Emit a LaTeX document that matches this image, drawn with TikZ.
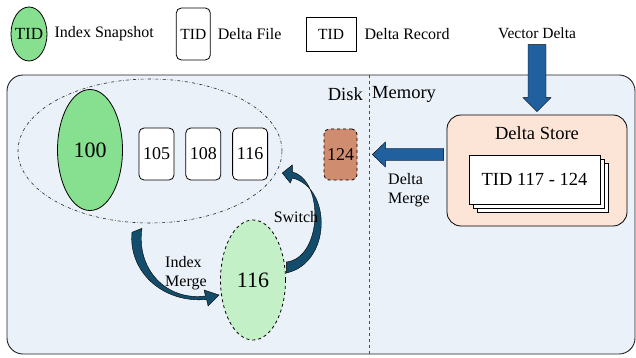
\documentclass[tikz,border=0pt]{standalone}
\usepackage{fontspec}
\setmainfont{Liberation Serif}
\usepackage{xcolor}
\usepackage{tikz}
\usetikzlibrary{shapes.geometric, arrows.meta, positioning, calc, shadows}
\definecolor{panelblue}{HTML}{EAF1F9}
\definecolor{snapgreen}{HTML}{86E08F}
\definecolor{newgreen}{HTML}{C4F0C8}
\definecolor{storepeach}{HTML}{FCE4D6}
\definecolor{brownrec}{HTML}{CF8C6E}
\definecolor{blockblue}{HTML}{21609E}
\definecolor{swooshblue}{HTML}{144C6B}
\definecolor{edgegray}{HTML}{222222}
\tikzstyle{panelbox} = [rectangle, rounded corners=16pt, draw=edgegray, line width=0.9pt, fill=panelblue, minimum width=628pt, minimum height=279pt]
\tikzstyle{divider} = [dashed, draw=edgegray!80, line width=0.7pt]
\tikzstyle{snapgroup} = [ellipse, dash dot, draw=edgegray, line width=0.6pt, minimum width=264pt, minimum height=144pt]
\tikzstyle{snapshot} = [ellipse, draw=black, fill=snapgreen, line width=0.8pt, inner sep=0pt, minimum width=65pt, minimum height=121pt, font=\fontsize{22}{24}\selectfont]
\tikzstyle{filebox} = [rectangle, rounded corners=5pt, draw=black, fill=white, line width=0.8pt, minimum width=35pt, minimum height=52pt, inner sep=1pt, font=\fontsize{18}{20}\selectfont]
\tikzstyle{recordbox} = [rectangle, draw=black, fill=white, line width=0.8pt, minimum width=50pt, minimum height=34pt, inner sep=1pt, font=\fontsize{15.5}{18}\selectfont]
\tikzstyle{storebox} = [rectangle, rounded corners=14pt, draw=black, fill=storepeach, line width=0.8pt, minimum width=180pt, minimum height=111pt]
\tikzstyle{paperbox} = [rectangle, draw=black, fill=white, line width=0.8pt, minimum width=131pt, minimum height=49pt, double copy shadow={shadow xshift=4pt, shadow yshift=-4pt}, font=\fontsize{18.5}{20}\selectfont]
\tikzstyle{legtext} = [inner sep=2pt, font=\fontsize{16}{19}\selectfont]
\tikzstyle{lbltext} = [inner sep=2pt, font=\fontsize{16}{19}\selectfont]
\tikzstyle{sidetext} = [inner sep=2pt, font=\fontsize{18.5}{20}\selectfont]
\tikzstyle{bluearrow} = [draw=black, line width=0.4pt, fill=blockblue]
\tikzstyle{swoosh} = [draw=black, line width=0.4pt, fill=swooshblue]

\begin{document}
\begin{tikzpicture}[x=1pt, y=-1pt, node distance=6pt]
    \useasboundingbox (0,0) rectangle (636,358);

    % legend
    \node[snapshot, minimum width=36pt, minimum height=54pt, inner xsep=-3pt, font=\fontsize{17}{20}\selectfont] (legsnap) at (29,34) {TID};
    \node[legtext, right=5pt of legsnap] (legsnaptext) {Index Snapshot};
    \node[filebox, minimum width=34pt, font=\fontsize{15.5}{18}\selectfont, right=20pt of legsnaptext] (legfile) {TID};
    \node[legtext, right=5pt of legfile] (legfiletext) {Delta File};
    \node[recordbox, right=22pt of legfiletext] (legrec) {TID};
    \node[legtext, right=6pt of legrec] (legrectext) {Delta Record};
    \node[lbltext, font=\fontsize{15.5}{18}\selectfont] (vd) at (537,33) {Vector Delta};

    % disk / memory panel
    \node[panelbox] (panel) at (321,214.5) {};
    \draw[divider] ($(panel.north)+(48,0)$) -- ($(panel.south)+(48,0)$);
    \node[sidetext, anchor=east] (disk) at (365,94) {Disk};
    \node[sidetext, right=5pt of disk] (memory) {Memory};

    \node[snapgroup] (group) at (150,151) {};
    \node[snapshot] (s100) at (90,150) {100};
    \node[filebox] (f105) at (156.5,154) {105};
    \node[filebox, right=11pt of f105] (f108) {108};
    \node[filebox, right=11pt of f108] (f116) {116};
    \node[filebox, dashed, fill=brownrec, minimum width=33pt, minimum height=51pt] (r124) at (340.5,154.5) {124};
    \node[snapshot, dashed, fill=newgreen, minimum height=120pt] (n116) at (253,280) {116};

    \node[storebox] (store) at (537,170.5) {};
    \node[sidetext, below=10pt of store.north] (storetitle) {Delta Store};
    \node[paperbox] (paper) at (534.5,179.5) {TID 117 - 124};

    % block arrows
    \coordinate (vdtail) at ($(vd.south)+(0,4)$);
    \coordinate (vdtip) at ($(store.north)+(0,-3)$);
    \draw[bluearrow] ($(vdtail)+(-9,0)$) -- ($(vdtip)+(-9,-14)$) -- ($(vdtip)+(-14,-14)$) -- (vdtip) -- ($(vdtip)+(14,-14)$) -- ($(vdtip)+(9,-14)$) -- ($(vdtail)+(9,0)$) -- cycle;
    \coordinate (dmtail) at ($(store.west |- r124.east)+(-3,0)$);
    \coordinate (dmtip) at ($(r124.east)+(15,0)$);
    \draw[bluearrow] ($(dmtail)+(0,-6)$) -- ($(dmtip)+(13,-6)$) -- ($(dmtip)+(13,-12.5)$) -- (dmtip) -- ($(dmtip)+(13,12.5)$) -- ($(dmtip)+(13,6)$) -- ($(dmtail)+(0,6)$) -- cycle;
    \node[lbltext, align=left, anchor=west] (dmtext) at (386,190) {Delta\\Merge};

    % curved arrows
    \coordinate (imA) at ($(group.south)+(-13,7)$);
    \coordinate (imB) at ($(n116.west)+(-1,15)$);
    \draw[swoosh] ($(imA)+(-5,2)$) .. controls +(-4,38) and +(-45,4) .. ($(imB)+(-12.5,4.5)$) -- ($(imB)+(-11,11)$) -- (imB) -- ($(imB)+(-15,-5)$) -- ($(imB)+(-13.7,1)$) .. controls +(-40,5) and +(-6,40) .. ($(imA)+(5,-2)$) -- cycle;
    \node[lbltext, align=left, anchor=west] (imtext) at (163,273) {Index\\Merge};

    \coordinate (swA) at ($(n116.east)+(0,-12)$);
    \coordinate (swB) at ($(group.east)+(0,22)$);
    \draw[swoosh] ($(swA)+(0.5,5)$) .. controls +(45,-10) and +(40,10) .. ($(swB)+(10,5)$) -- ($(swB)+(8,10)$) -- (swB) -- ($(swB)+(10,-8)$) -- ($(swB)+(10,-1)$) .. controls +(32,8) and +(36,-4) .. ($(swA)+(0.5,-6)$) -- cycle;
    \node[lbltext] (swtext) at (296,217) {Switch};
\end{tikzpicture}
\end{document}
